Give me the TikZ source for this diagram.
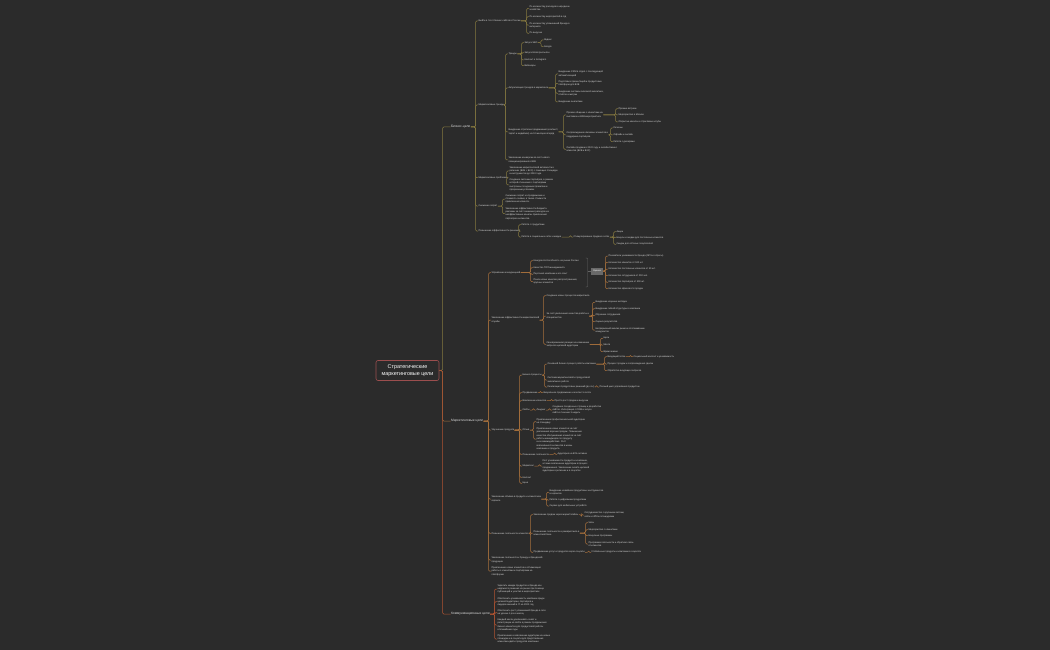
\documentclass[tikz,border=0pt]{standalone}
\usepackage{fontspec}
\setmainfont{Liberation Sans}
\definecolor{bgc}{RGB}{43,43,43}
\definecolor{txtc}{RGB}{218,218,218}
\definecolor{rootc}{RGB}{155,78,78}
\definecolor{cbc}{RGB}{133,120,64}
\definecolor{cmc}{RGB}{165,111,60}
\definecolor{ccc}{RGB}{176,84,50}
\definecolor{sumc}{RGB}{105,105,105}
\definecolor{brc}{RGB}{100,100,100}
\newcommand\lk[4][2.5]{\draw[#2] (#3.east) -| ([xshift=-#1pt]#4.west) -- (#4.west);}
\tikzset{
  tx/.style={font=\fontsize{2.35}{3.3}\selectfont, text=txtc, inner sep=0.3pt, anchor=west, align=left},
  lone/.style={font=\fontsize{3.3}{4}\selectfont, text=txtc, inner sep=0.3pt, anchor=west},
  rootn/.style={draw=rootc, line width=0.6pt, rounded corners=2pt, fill=bgc, text=white,
    font=\fontsize{5.4}{7}\selectfont, align=center, minimum width=63pt, minimum height=20pt, inner sep=1pt},
  sumn/.style={fill=sumc, text=white, font=\fontsize{2.3}{3}\selectfont, minimum width=12pt, minimum height=7pt, inner sep=0.4pt},
  lb/.style={draw=cbc, line width=0.5pt, rounded corners=1.2pt},
  lm/.style={draw=cmc, line width=0.5pt, rounded corners=1.2pt},
  lc/.style={draw=ccc, line width=0.5pt, rounded corners=1.2pt},
  lbr/.style={draw=brc, line width=0.45pt, rounded corners=0.8pt}
}
\begin{document}
\begin{tikzpicture}[x=1pt,y=-1pt]
\fill[bgc] (0,0) rectangle (1050,650);
\useasboundingbox (0,0) rectangle (1050,650);

% root and level 1
\node[rootn] (R) at (407.5,370.5) {Стратегические\\маркетинговые цели};
\node[lone] (B) at (450.5,127) {Бизнес-цели};
\node[lone] (M) at (450.5,421) {Маркетинговые цели};
\node[lone] (C) at (450.5,614) {Коммуникационные цели};
\lk[8]{lb}{R}{B}
\lk[8]{lm}{R}{M}
\lk[8]{lc}{R}{C}

% ===== Бизнес-цели =====
\node[tx] (b1) at (478,21) {Выйти в топ-3 бизнес-сайтов в России};
\node[tx] (b2) at (478,105) {Маркетинговые тренды};
\node[tx] (b3) at (478,177.7) {Маркетинговые проблемы};
\node[tx] (b4) at (478,206) {Снижение затрат};
\node[tx] (b5) at (478,231) {Повышение эффективности решений};
\foreach \c in {b1,b2,b3,b4,b5} {\lk{lb}{B}{\c}}

\node[tx] (b11) at (529,8.5) {По количеству расходов в народном\\хозяйстве};
\node[tx] (b12) at (529,16.7) {По количеству мероприятий в год};
\node[tx] (b13) at (529,25.2) {По количеству упоминаний бренда в\\интернете};
\node[tx] (b14) at (529,33.3) {По выручке};
\foreach \c in {b11,b12,b13,b14} {\lk{lb}{b1}{\c}}

\node[tx] (b21) at (508,54) {Тренды};
\node[tx] (b22) at (508,88) {Актуализация трендов в маркетинге};
\node[tx] (b23) at (508,132) {Внедрение стратегии продвижения (контекст,\\таргет и медийная) на 12 месяцев вперёд};
\node[tx] (b24) at (508,160) {Увеличение конверсии за счёт нового\\позиционирования в B2B};
\foreach \c in {b21,b22,b23,b24} {\lk{lb}{b2}{\c}}

\node[tx] (b211) at (524,42.7) {Запуск SEO};
\node[tx] (b212) at (524,52.7) {Запуск Email-рассылок};
\node[tx] (b213) at (524,60) {Контент в Instagram};
\node[tx] (b214) at (524,65.7) {Вебинары};
\foreach \c in {b211,b212,b213,b214} {\lk{lb}{b21}{\c}}
\node[tx] (b2111) at (543.5,40) {Яндекс};
\node[tx] (b2112) at (543.5,46.7) {Google};
\lk{lb}{b211}{b2111}
\lk{lb}{b211}{b2112}

\node[tx] (b221) at (558,74) {Внедрение CRM в отдел с последующей\\автоматизацией};
\node[tx] (b222) at (558,83.3) {Подготовка презентаций и продуктовых\\платформ для B2B};
\node[tx] (b223) at (558,93.3) {Внедрение системы сквозной аналитики,\\отчётов и метрик};
\node[tx] (b224) at (558,102) {Внедрение аналитики};
\foreach \c in {b221,b222,b223,b224} {\lk{lb}{b22}{\c}}

\node[tx] (b231) at (566,115) {Прямое общение с клиентами на\\выставках и B2B мероприятиях};
\node[tx] (b232) at (566,135) {Сопровождение ключевых клиентов и\\поддержка партнёров};
\node[tx] (b233) at (566,149.3) {Онлайн-продажи в 2022 году и онлайн-бизнес\\клиентов (B2B и B2C)};
\foreach \c in {b231,b232,b233} {\lk{lb}{b23}{\c}}
\node[tx] (b2311) at (618,108.7) {Прямые встречи};
\node[tx] (b2312) at (618,115) {Мероприятия в Москве};
\node[tx] (b2313) at (618,122) {Открытые ивенты и отраслевые клубы};
\foreach \c in {b2311,b2312,b2313} {\lk{lb}{b231}{\c}}
\node[tx] (b2321) at (613,128) {Регионы};
\node[tx] (b2322) at (613,135) {Офлайн и онлайн};
\node[tx] (b2323) at (613,141.7) {Работа с дилерами};
\foreach \c in {b2321,b2322,b2323} {\lk{lb}{b232}{\c}}

\node[tx] (b31) at (509,171) {Увеличение маркетинговой активности в\\регионах (B2B + B2C) с помощью площадок\\и инструментов до 2024 года.};
\node[tx] (b32) at (509,185) {Создание системы партнёров, в рамках\\которой отношения с партнёрами\\выстроены по единым правилам и\\прозрачным условиям.};
\lk{lb}{b3}{b31}
\lk{lb}{b3}{b32}

\node[tx] (b41) at (505,199) {Снижение затрат на продвижение и\\стоимость заявки, а также стоимости\\привлечения клиента.};
\node[tx] (b42) at (505,213.7) {Увеличение эффективности бюджета\\рекламы за счёт снижения расходов на\\неэффективные каналы привлечения\\партнёров и клиентов.};
\lk{lb}{b4}{b41}
\lk{lb}{b4}{b42}

\node[tx] (b51) at (521,224.7) {Работа с продуктами};
\node[tx] (b52) at (521,237) {Работа в социальных сетях и медиа};
\lk{lb}{b5}{b51}
\lk{lb}{b5}{b52}
\node[tx] (b521) at (573,237) {Стимулирование продаж в сетях};
\lk{lb}{b52}{b521}
\node[tx] (b5211) at (616,231.7) {Акции};
\node[tx] (b5212) at (616,237.7) {Бонусы и скидки для постоянных клиентов};
\node[tx] (b5213) at (616,244.3) {Скидки для оптовых покупателей};
\foreach \c in {b5211,b5212,b5213} {\lk{lb}{b521}{\c}}

% ===== Маркетинговые цели =====
\node[tx] (mA) at (491,272.7) {Управление конкуренцией};
\node[tx] (mB) at (491,320) {Увеличение эффективности маркетинговой\\службы};
\node[tx] (mC) at (491,430) {Улучшение продукта};
\node[tx] (mD) at (491,499) {Увеличение объёма в продукте и клиентском\\сервисе};
\node[tx] (mE) at (491,533.3) {Повышение лояльности клиентов};
\node[tx] (mF) at (491,560) {Увеличение лояльности к бренду и брендовой\\продукции};
\node[tx] (mG) at (491,571.2) {Привлечение новых клиентов и оптимизация\\работы с клиентами и партнёрами на\\платформе};
\foreach \c in {mA,mB,mC,mD,mE,mF,mG} {\lk{lm}{M}{\c}}

\node[tx] (mA1) at (533,260.7) {Конкурентоспособность на рынке России};
\node[tx] (mA2) at (533,267.7) {Качество ТОП-менеджмента};
\node[tx] (mA3) at (533,274.3) {Персонал компании и его опыт};
\node[tx] (mA4) at (533,281.7) {Поиск новых каналов распространения,\\крупных клиентов};
\foreach \c in {mA1,mA2,mA3,mA4} {\lk{lm}{mA}{\c}}
\coordinate (brT) at (585.5,258);
\coordinate (brB) at (585.5,287);
\coordinate (brM) at (587.5,271);
\draw[lbr] (brT) -- ++(2,0) -- ([xshift=2pt]brB) -- (brB);
\node[sumn] (S) at (597,271) {Оценка};
\draw[lbr] (brM) -- (S.west);
\node[tx] (s1) at (608,256) {Показатели узнаваемости бренда (NPS и опросы)};
\node[tx] (s2) at (608,262.3) {Количество клиентов от 100 шт.};
\node[tx] (s3) at (608,269) {Количество постоянных клиентов от 30 шт.};
\node[tx] (s4) at (608,275.7) {Количество сотрудников от 200 чел.};
\node[tx] (s5) at (608,282.3) {Количество партнёров от 300 шт.};
\node[tx] (s6) at (608,288.7) {Количество офисов в 5 городах};
\foreach \c in {s1,s2,s3,s4,s5,s6} {\lk{lm}{S}{\c}}

\node[tx] (mB1) at (546,295.7) {Создание новых процессов маркетинга};
\node[tx] (mB2) at (546,316) {За счёт увеличения качества работы и\\специалистов};
\node[tx] (mB3) at (546,344.3) {Своевременная реакция на изменение\\запросов целевой аудитории};
\foreach \c in {mB1,mB2,mB3} {\lk{lm}{mB}{\c}}
\node[tx] (mB21) at (595,302.3) {Внедрение научных методик};
\node[tx] (mB22) at (595,308.7) {Внедрение гибкой структуры в компании};
\node[tx] (mB23) at (595,315.3) {Обучение сотрудников};
\node[tx] (mB24) at (595,321.7) {Оценка результатов};
\node[tx] (mB25) at (595,330.2) {Непрерывный анализ рынка и отслеживание\\конкурентов};
\foreach \c in {mB21,mB22,mB23,mB24,mB25} {\lk{lm}{mB2}{\c}}
\node[tx] (mB31) at (603,338.3) {Цели};
\node[tx] (mB32) at (603,345) {Мечта};
\node[tx] (mB33) at (603,351.7) {Время жизни};
\foreach \c in {mB31,mB32,mB33} {\lk{lm}{mB3}{\c}}

\node[tx] (mC1) at (522,375) {Бизнес-процессы};
\node[tx] (mC2) at (522,392.7) {Продвижение};
\node[tx] (mC3) at (522,400.7) {Вовлечение клиентов};
\node[tx] (mC4) at (522,410) {Сайты};
\node[tx] (mC5) at (522,430) {Отзыв};
\node[tx] (mC6) at (522,454.3) {Повышение лояльности};
\node[tx] (mC7) at (522,466) {Маркетинг};
\node[tx] (mC8) at (522,477.3) {Контент};
\node[tx] (mC9) at (522,483.3) {Цена};
\foreach \c in {mC1,mC2,mC3,mC4,mC5,mC6,mC7,mC8,mC9} {\lk{lm}{mC}{\c}}

\node[tx] (mC11) at (547,364) {Основной бизнес-процесс работы компании};
\node[tx] (mC12) at (547,380) {Система маркетинговой и продуктовой\\аналитики в работе};
\node[tx] (mC13) at (547,387) {Реализация продуктовых решений (до 4-х)};
\foreach \c in {mC11,mC12,mC13} {\lk{lm}{mC1}{\c}}
\node[tx] (mC111) at (607,356.7) {Входящий поток};
\node[tx] (mC112) at (607,364) {Процесс продаж и сопровождения сделки};
\node[tx] (mC113) at (607,370.7) {Обработка входящих запросов};
\foreach \c in {mC111,mC112,mC113} {\lk{lm}{mC11}{\c}}
\node[tx] (mC1111) at (633,356.7) {Социальный контент и узнаваемость};
\lk{lm}{mC111}{mC1111}
\node[tx] (mC131) at (599,387) {Полный цикл управления продуктом};
\lk{lm}{mC13}{mC131}
\node[tx] (mC21) at (543,392.7) {Визуальное продвижение и контент в сетях};
\lk{lm}{mC2}{mC21}
\node[tx] (mC31) at (554,400.7) {Просто рост продаж и выручки};
\lk{lm}{mC3}{mC31}
\node[tx] (mC41) at (536,410) {Лендинг};
\lk{lm}{mC4}{mC41}
\node[tx] (mC411) at (552,410) {Создание посадочных страниц и разработка\\сайтов. Интеграция с CRM и запуск\\сайта в течение 3 недель};
\lk{lm}{mC41}{mC411}
\node[tx] (mC51) at (536,421.7) {Привлечение профессиональной аудитории\\на площадку};
\node[tx] (mC52) at (536,439) {Привлечение новых клиентов за счёт\\увеличения воронки продаж. Повышение\\качества обслуживания клиентов за счёт\\работы менеджеров по продукту\\и их взаимодействия. Рост\\вовлечённости клиентов в жизнь\\компании и продукта.};
\lk{lm}{mC5}{mC51}
\lk{lm}{mC5}{mC52}
\node[tx] (mC61) at (557,454.3) {Аудитория на 80\% активна};
\lk{lm}{mC6}{mC61}
\node[tx] (mC71) at (542,466) {Рост узнаваемости продукта и компании,\\а также вовлечение аудитории в процесс\\продвижения. Увеличение охвата целевой\\аудитории в регионах и в соцсетях.};
\lk{lm}{mC7}{mC71}

\node[tx] (mD1) at (549,492.3) {Внедрение новейших продуктовых инструментов\\и сервисов};
\node[tx] (mD2) at (549,500) {Работа с цифровыми продуктами};
\node[tx] (mD3) at (549,506) {Сервис для мобильных устройств};
\foreach \c in {mD1,mD2,mD3} {\lk{lm}{mD}{\c}}

\node[tx] (mE1) at (533,514.7) {Увеличение продаж через маркетплейсы};
\node[tx] (mE2) at (533,533) {Повышение лояльности и ремаркетинга в\\клиентской базе};
\node[tx] (mE3) at (533,552.3) {Продвижение услуг и продуктов через соцсети};
\foreach \c in {mE1,mE2,mE3} {\lk{lm}{mE}{\c}}
\node[tx] (mE11) at (584,515) {Сотрудничество с крупными сетями,\\online и offline-площадками};
\lk{lm}{mE1}{mE11}
\node[tx] (mE21) at (588,522.7) {Чаты};
\node[tx] (mE22) at (588,529.7) {Мероприятия с клиентами};
\node[tx] (mE23) at (588,535.7) {Бонусные программы};
\node[tx] (mE24) at (588,544) {Программа лояльности и обратная связь\\от клиентов};
\foreach \c in {mE21,mE22,mE23,mE24} {\lk{lm}{mE2}{\c}}
\node[tx] (mE31) at (591,552.3) {Глобальные продукты и компании в соцсетях};
\lk{lm}{mE3}{mE31}

% ===== Коммуникационные цели =====
\node[tx] (c1) at (497,589) {Укрепить имидж продуктов и бренда как\\надёжного решения на рынке при помощи\\публикаций и участия в мероприятиях};
\node[tx] (c2) at (497,601.7) {Обеспечить узнаваемость компании среди\\целевой аудитории, партнёров и\\лидеров мнений в IT на 2022 год};
\node[tx] (c3) at (497,612.7) {Обеспечить рост упоминаний бренда в сети\\на уровне 1 раз в месяц};
\node[tx] (c4) at (497,625) {Каждый месяц увеличивать охват и\\регистрации на сайте в рамках продвижения\\бизнес-клиентов для продуктовой работы\\в ближайшие годы};
\node[tx] (c5) at (497,639) {Привлечение и вовлечение аудитории на новые\\площадки и в соцсети для представления\\клиентам идей и продуктов компании};
\foreach \c in {c1,c2,c3,c4,c5} {\lk{lc}{C}{\c}}
\end{tikzpicture}
\end{document}
